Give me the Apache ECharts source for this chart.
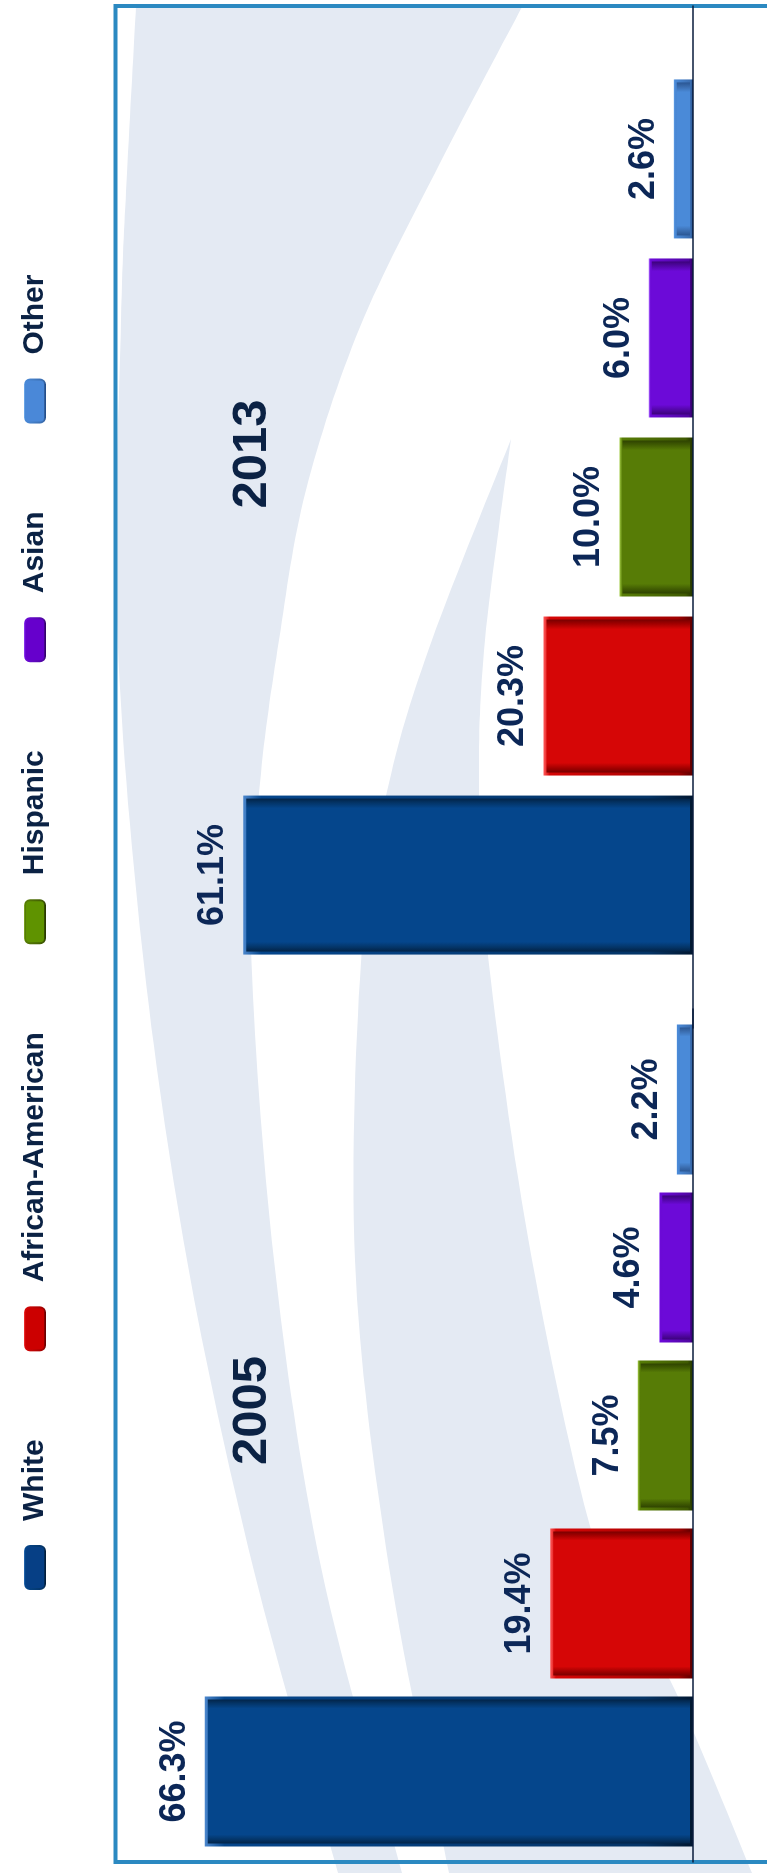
<!DOCTYPE html>
<html>
<head>
<meta charset="utf-8">
<script src="https://cdn.jsdelivr.net/npm/echarts@6/dist/echarts.min.js"></script>
<style>
  html, body { margin: 0; padding: 0; background: #ffffff; }
  #page { position: relative; width: 767px; height: 1873px; overflow: hidden; }
  /* the chart is laid out as a normal column chart and turned a quarter turn */
  #chart {
    position: absolute; left: 0; top: 0;
    width: 1873px; height: 767px;
    transform-origin: 0 0;
    transform: translateY(1873px) rotate(-90deg);
  }
</style>
</head>
<body>
<div id="page"><div id="chart"></div></div>
<script>
// ---- data ----
const years = ['2005', '2013'];
const groups = ['White', 'African-American', 'Hispanic', 'Asian', 'Other'];
const white = [66.3, 61.1];
const africanAmerican = [19.4, 20.3];
const hispanic = [7.5, 10.0];
const asian = [4.6, 6.0];
const other = [2.2, 2.6];
const valuesByGroup = [white, africanAmerican, hispanic, asian, other];

// ---- styling ----
const FONT = '"Liberation Sans", Arial, sans-serif';
const palette = {
  'White':            { base: '#05468c', mid: '#043466', dark: '#011730', light: '#4a86cc', key: '#063f85' },
  'African-American': { base: '#d60606', mid: '#a00000', dark: '#5a0000', light: '#ff5a5a', key: '#cc0000' },
  'Hispanic':         { base: '#577c06', mid: '#3f5a02', dark: '#213100', light: '#a2cc44', key: '#5f9300' },
  'Asian':            { base: '#6c0ad8', mid: '#5006a2', dark: '#2c005c', light: '#ac68ff', key: '#6600cc' },
  'Other':            { base: '#4a8ad8', mid: '#3a6cae', dark: '#1e4680', light: '#92c4f6', key: '#4a88d8' }
};
// extra space after some legend entries
const legendTextPad = { 'Hispanic': [0, 12, 0, 20] };
// bar widths differ slightly between the two year blocks
const blockLayout = [
  { grid: { left: 11, width: 853, top: 104, height: 589 }, barWidth: 150, barGap: '12%', labelPad: 50 },
  { grid: { left: 845, width: 1022, top: 104, height: 589 }, barWidth: 159, barGap: '12.6%', labelPad: 126 }
];

// ---- decorative swoosh bands (chart-space pixel outlines) ----
const swooshA = [
  [[1866,136],[1700,127],[1553,121],[1253,117],[926,142],[613,187],[306,253],[0,338]],
  [[0,402],[306,321],[613,274],[926,251],[1090,260],[1233,279],[1383,306],[1546,360],[1710,440],[1866,522]]
];
const swooshB = [
  [[1434,511],[1233,432],[1090,389],[926,362],[613,355],[306,389],[0,449]],
  [[0,752],[193,670],[306,602],[613,532],[926,487],[1090,479],[1233,485],[1434,511]]
];
// Catmull-Rom through the outline points, sampled into a dense point list
function spline(pts) {
  const out = [];
  for (let i = 0; i < pts.length - 1; i++) {
    const p0 = pts[i - 1] || pts[i], p1 = pts[i], p2 = pts[i + 1], p3 = pts[i + 2] || pts[i + 1];
    for (let s = 0; s < 16; s++) {
      const t = s / 16, t2 = t * t, t3 = t2 * t;
      const f = (a, b, c, d) => 0.5 * ((2 * b) + (-a + c) * t + (2 * a - 5 * b + 4 * c - d) * t2 + (-a + 3 * b - 3 * c + d) * t3);
      out.push([f(p0[0], p1[0], p2[0], p3[0]), f(p0[1], p1[1], p2[1], p3[1])]);
    }
  }
  out.push(pts[pts.length - 1]);
  return out;
}
function bandPoints(edges) {
  return spline(edges[0]).concat(spline(edges[1]));
}

// bevelled look: dark side edges, light top rim, darker foot
function barStyle(c) {
  return {
    color: new echarts.graphic.LinearGradient(0, 0, 1, 0, [
      { offset: 0, color: c.dark },
      { offset: 0.045, color: c.mid },
      { offset: 0.08, color: c.base },
      { offset: 0.92, color: c.base },
      { offset: 0.955, color: c.mid },
      { offset: 1, color: c.dark }
    ]),
    borderWidth: 3,
    borderColor: new echarts.graphic.LinearGradient(0, 0, 0, 1, [
      { offset: 0, color: c.light },
      { offset: 0.04, color: c.base },
      { offset: 0.9, color: c.mid },
      { offset: 1, color: c.dark }
    ])
  };
}

const series = [];
years.forEach((year, k) => {
  groups.forEach((name, g) => {
    series.push({
      type: 'bar',
      name: name,
      xAxisIndex: k,
      yAxisIndex: k,
      data: [valuesByGroup[g][k]],
      barWidth: blockLayout[k].barWidth,
      barGap: blockLayout[k].barGap,
      itemStyle: barStyle(palette[name]),
      label: {
        show: true,
        position: 'top',
        distance: 12,
        formatter: p => p.value.toFixed(1) + '%',
        fontFamily: FONT,
        fontSize: 36,
        fontWeight: 'bold',
        color: '#0c2757'
      }
    });
  });
});

const chart = echarts.init(document.getElementById('chart'), null, { renderer: 'canvas' });
chart.setOption({
  animation: false,
  backgroundColor: '#ffffff',
  graphic: [
    { type: 'polygon', z: -10, shape: { points: bandPoints(swooshA) }, style: { fill: '#e4eaf3' } },
    { type: 'polygon', z: -10, shape: { points: bandPoints(swooshB) }, style: { fill: '#e4eaf3' } },
    { type: 'rect', z: -5, shape: { x: 11, y: 115.5, width: 1856, height: 800 },
      style: { fill: 'none', stroke: '#2b89c1', lineWidth: 4 } }
  ],
  legend: {
    left: 278,
    top: 15,
    itemWidth: 43,
    itemHeight: 20,
    itemGap: 88,
    icon: 'roundRect',
    textStyle: { fontFamily: FONT, fontSize: 30, fontWeight: 'bold', color: '#0b2244', padding: [0, 0, 0, 20] },
    data: groups.map(name => {
      const item = { name: name, itemStyle: { color: palette[name].key } };
      if (legendTextPad[name]) {
        item.textStyle = { fontFamily: FONT, fontSize: 30, fontWeight: 'bold', color: '#0b2244', padding: legendTextPad[name] };
      }
      return item;
    })
  },
  grid: blockLayout.map(b => b.grid),
  xAxis: years.map((year, k) => ({
    gridIndex: k,
    type: 'category',
    data: [year],
    z: 10,
    axisLine: { show: true, lineStyle: { color: '#0a1d3c', width: 1.5 } },
    axisTick: { show: false },
    axisLabel: {
      margin: -465,
      padding: [0, 0, 0, blockLayout[k].labelPad],
      fontFamily: FONT,
      fontSize: 49,
      fontWeight: 'bold',
      color: '#0b2244'
    }
  })),
  yAxis: years.map((year, k) => ({
    gridIndex: k,
    type: 'value',
    min: 0,
    max: 80,
    show: false
  })),
  series: series
});
</script>
</body>
</html>
